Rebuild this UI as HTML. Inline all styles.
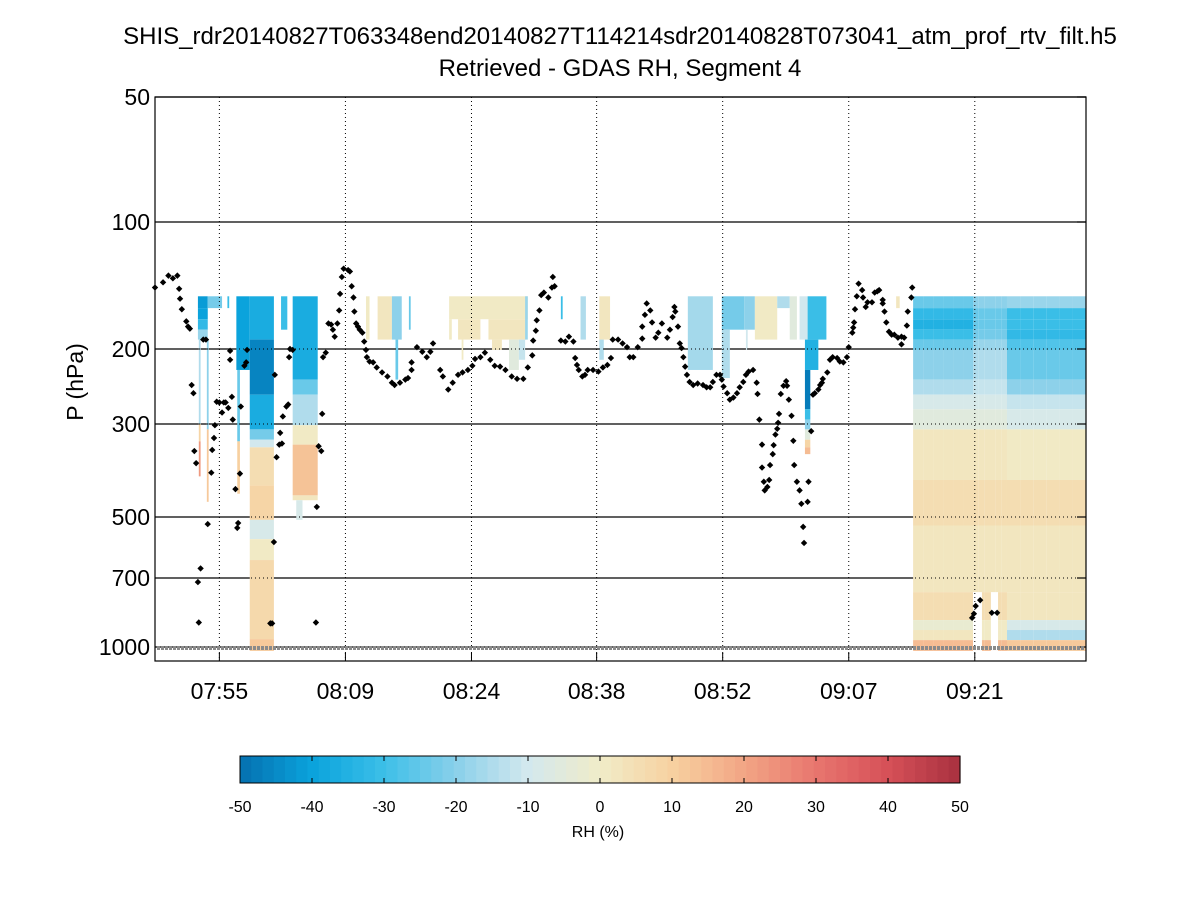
<!DOCTYPE html>
<html><head><meta charset="utf-8"><style>
body{margin:0;background:#fff;}
svg{display:block;font-family:"Liberation Sans",sans-serif;}
</style></head><body>
<svg id="chart" width="1200" height="900" viewBox="0 0 1200 900">
<text x="620" y="44" text-anchor="middle" font-size="24">SHIS_rdr20140827T063348end20140827T114214sdr20140828T073041_atm_prof_rtv_filt.h5</text>
<text x="620" y="76" text-anchor="middle" font-size="24">Retrieved - GDAS RH, Segment 4</text>
<text transform="translate(83,382) rotate(-90)" text-anchor="middle" font-size="23">P (hPa)</text>
<g id="plot"></g>
<g id="cbar"></g>
<text x="598" y="837" text-anchor="middle" font-size="16">RH (%)</text>
</svg>
<script>
// ---- data ----
const yTickValues = [50, 100, 200, 300, 500, 700, 1000];
const xTickMinutes = [55.3, 69.4, 83.5, 97.5, 111.6, 125.7, 139.8];
const xTickLabels = ["07:55", "08:09", "08:24", "08:38", "08:52", "09:07", "09:21"];
const cbarTicks = [-50, -40, -30, -20, -10, 0, 10, 20, 30, 40, 50];
// RH difference blocks: [t0(min after 07:00), t1, pTop(hPa), pBottom(hPa), value(%)]
const rhBlocks = [
[52.9,54.0,150,160,-42],[52.9,54.0,160,170,-40],[52.9,54.0,170,180,-32],[52.9,54.0,180,190,-18],
[53.0,53.2,190,300,-15],[53.0,53.2,300,330,8],[53.0,53.2,330,400,22],
[53.9,54.1,190,309,-20],[53.9,54.1,309,460,12],
[54.0,55.6,150,160,-22],[56.2,56.4,150,160,-30],
[57.2,58.7,150,201,-40],[57.2,58.7,201,224,-42],[57.3,57.6,224,330,-25],[57.3,57.6,330,440,10],
[58.7,61.4,150,190,-37],[58.7,61.4,190,256,-46],[58.7,61.4,256,309,-37],[58.7,61.4,309,327,-22],
[58.7,61.4,327,341,-10],[58.7,61.4,341,420,5],[58.7,61.4,420,508,9],[58.7,61.4,508,565,-8],
[58.7,61.4,565,634,0],[58.7,61.4,634,960,7],[58.7,61.4,960,1027,11],
[62.2,62.9,150,180,-30],
[63.5,66.3,150,236,-37],[63.5,66.3,236,256,-25],[63.5,66.3,256,302,-15],[63.5,66.3,302,336,0],
[63.5,66.3,336,444,13],[63.5,66.3,444,456,2],[63.9,64.6,456,508,-8],
[71.7,72.1,150,190,0],
[73.0,74.6,150,190,2],[74.6,75.7,150,190,-20],[75.0,75.3,190,236,-25],[76.5,76.7,150,180,-25],
[81.0,89.8,150,170,1],[81.0,81.3,170,190,0],[82.0,84.5,170,190,2],[85.4,89.6,170,190,2],
[82.4,82.6,190,212,0],[85.8,86.9,190,201,3],[87.7,88.8,190,224,-5],[88.8,89.5,190,212,-12],[89.5,89.8,150,190,-18],
[93.5,93.7,150,170,-30],
[95.7,96.3,150,190,-15],
[97.8,99.0,150,190,2],[97.8,98.3,190,212,-15],
[107.7,110.5,150,224,-17],
[111.5,114.0,150,180,-22],[111.5,112.4,180,234,-15],
[114.0,115.2,150,180,-20],[115.2,117.7,150,190,1],[114.2,114.4,180,201,-10],
[117.7,119.1,150,160,-15],[119.1,119.9,150,190,-5],[120.2,121.1,150,190,-10],
[121.1,123.2,150,190,-30],[120.8,122.3,190,224,-35],[120.8,121.4,224,277,-48],[120.8,121.4,277,293,-30],
[120.8,121.4,293,309,-20],[120.8,121.4,309,327,-5],[120.8,121.4,327,341,8],[120.8,121.4,341,354,15],
[131.0,131.4,150,160,3]
];
// right-hand continuous block: layer edges and profiles per column group
const rightLevels = [150,160,170,180,190,201,236,256,277,309,408,524,753,870,916,965,1027];
const rightGroupT = [[132.9,139.6],[139.6,143.4],[143.4,152.2]];
const rightG1 = [-25,-32,-35,-30,-25,-20,-15,-8,-5,3,5,3,6,-3,3,15];
const rightG2 = [-20,-25,-25,-22,-18,-15,-12,-8,-5,2,5,3,5,0,0,15];
const rightG3 = [-18,-30,-30,-32,-28,-25,-20,-12,-8,0,5,3,3,-8,-15,12];
const rightHoles = [[139.6,140.6,753,1027],[141.6,142.4,753,1027]];
// cloud-top points: time (min after 07:00), pressure (hPa)
const cloudT = [48.1,49.0,49.6,50.1,50.6,50.8,50.9,51.1,51.6,51.8,52.0,52.2,52.4,52.5,52.7,52.9,53.0,53.2,53.5,53.8,54.0,54.4,54.5,54.7,54.8,55.0,55.3,55.6,55.8,56.0,56.3,56.5,56.5,56.7,56.8,57.1,57.3,57.4,57.6,57.7,58.1,58.3,58.4,61.0,61.2,61.4,61.5,61.7,62.0,62.1,62.3,62.4,62.8,63.0,63.1,63.2,63.5,66.1,66.2,66.4,66.7,66.8,66.9,67.2,67.5,67.8,68.0,68.2,68.5,68.7,68.8,69.0,69.2,69.7,69.9,70.1,70.3,70.4,70.6,70.8,71.0,71.3,71.5,71.7,71.8,72.1,72.5,72.9,73.5,74.1,74.6,74.9,75.5,76.1,76.4,76.8,76.8,77.4,78.0,78.5,78.9,79.2,80.0,80.3,80.9,81.4,82.0,82.5,83.1,83.6,83.9,84.5,85.0,85.6,86.1,86.7,87.3,88.0,88.6,89.3,89.8,90.3,90.4,90.7,90.8,91.1,91.3,91.6,92.1,92.5,92.6,92.8,93.5,94.0,94.4,94.9,95.1,95.3,95.5,95.9,96.2,96.5,97.1,97.7,98.2,98.7,99.1,99.3,99.9,100.4,100.9,101.2,101.6,102.1,102.6,102.6,102.9,103.1,103.5,103.7,104.1,104.4,104.8,105.4,105.7,106.0,106.2,106.3,106.6,106.8,107.0,107.2,107.4,107.6,107.9,108.3,108.8,109.4,109.8,110.2,110.5,110.9,111.3,111.5,111.7,112.1,112.4,112.8,113.2,113.5,113.9,114.2,114.5,115.0,115.4,115.5,115.7,116.0,116.0,116.2,116.3,116.6,116.8,116.9,117.2,117.3,117.5,117.7,117.8,117.9,118.1,118.4,118.7,118.8,119.0,119.3,119.5,119.6,119.9,120.2,120.4,120.6,120.7,121.1,121.2,121.5,121.7,121.9,122.3,122.5,122.7,122.8,123.3,123.6,123.9,124.4,124.7,125.1,125.5,125.7,126.1,126.2,126.3,126.4,126.6,126.8,127.2,127.3,127.6,127.8,128.3,128.6,128.9,129.1,129.5,129.5,129.7,129.9,130.2,130.5,130.8,131.2,131.6,131.6,131.9,132.2,132.3,132.7,132.8,139.5,139.7,139.9,140.4,141.7,142.3];
const cloudP = [143,139,134,136,134,144,152,161,172,177,179,243,254,348,372,715,881,664,190,190,520,392,346,324,302,266,267,282,267,267,275,202,212,259,293,429,531,517,394,273,219,215,201,885,885,574,230,360,336,315,334,288,273,270,209,200,201,881,473,339,348,284,209,204,174,175,180,187,174,162,148,135,129,130,131,142,151,163,174,177,180,183,192,201,209,214,215,221,227,232,240,243,240,236,234,215,224,198,203,209,203,194,224,232,249,240,230,227,224,219,211,209,204,212,219,220,224,232,235,235,221,207,191,181,171,162,149,147,151,143,135,142,191,192,187,192,210,218,224,232,230,224,224,226,221,218,210,190,190,194,198,209,209,198,189,177,166,156,162,173,188,183,174,188,180,168,159,163,177,194,199,209,220,230,239,243,241,243,246,246,239,230,230,236,245,254,263,260,254,246,239,230,226,224,240,255,293,336,381,412,432,424,408,376,354,337,318,308,298,284,255,244,238,244,263,287,329,376,412,432,465,528,577,460,412,312,256,254,249,243,240,235,227,212,209,210,214,215,209,198,183,178,173,161,150,140,145,151,159,155,155,147,146,145,153,156,163,173,182,185,185,188,187,195,188,176,163,151,143,860,842,809,785,838,838];

// ---- scales ----
const X0 = 155, X1 = 1086, Y0 = 97, Y1 = 661;
const tMin = 48.1, pxPerMin = 8.94;
function xs(t){ return X0 + (t - tMin) * pxPerMin; }
const yRefP = [50,100,200,300,500,700,1000,1100];
const yRefPx = [97,222,349,424,517,578,647,661];
function ys(p){
  for (let i = 0; i < yRefP.length - 1; i++){
    if (p <= yRefP[i+1] || i === yRefP.length - 2){
      const f = (Math.log(p) - Math.log(yRefP[i])) / (Math.log(yRefP[i+1]) - Math.log(yRefP[i]));
      return yRefPx[i] + f * (yRefPx[i+1] - yRefPx[i]);
    }
  }
}
const stops = [[-50,[5,112,176]],[-40,[10,163,220]],[-30,[60,191,232]],[-20,[138,208,234]],[-10,[211,232,238]],[0,[240,236,200]],[10,[247,209,160]],[20,[242,165,133]],[30,[232,118,110]],[40,[214,80,88]],[50,[168,48,63]]];
function cmap(v){
  v = Math.max(-50, Math.min(50, v));
  const bin = Math.min(63, Math.floor((v + 50) / 100 * 64));
  v = -50 + (bin + 0.5) * 100 / 64;
  for (let i = 0; i < stops.length - 1; i++){
    if (v <= stops[i+1][0]){
      const f = (v - stops[i][0]) / 10;
      const c = stops[i][1].map((a, k) => Math.round(a + f * (stops[i+1][1][k] - a)));
      return `rgb(${c[0]},${c[1]},${c[2]})`;
    }
  }
}
const NS = "http://www.w3.org/2000/svg";
function mk(tag, attrs, parent){ const e = document.createElementNS(NS, tag); for (const k in attrs) e.setAttribute(k, attrs[k]); parent.appendChild(e); return e; }
const plot = document.getElementById('plot');

yTickValues.forEach(p => {
  const l = mk('line', {x1:X0, x2:X1, y1:ys(p), y2:ys(p), stroke:'#000', 'stroke-width':1.2}, plot);
  
  
});
function block(t0, t1, pa, pb, v){
  const x = xs(t0), w = xs(t1) - x, y = ys(pa), h = ys(pb) - y;
  const r = mk('rect', {x:x, y:y, width:Math.max(w, 1.5), height:h, fill:cmap(v)}, plot);
  
  
}
rhBlocks.forEach(b => block(b[0], b[1], b[2], b[3], b[4]));
[rightG1, rightG2, rightG3].forEach((g, gi) => {
  const tr = rightGroupT[gi];
  g.forEach((v, li) => {
    const steps = 6;
    for (let s = 0; s < steps; s++){
      const t0 = tr[0] + (tr[1] - tr[0]) * s / steps, t1 = tr[0] + (tr[1] - tr[0]) * (s + 1) / steps;
      block(t0, t1, rightLevels[li], rightLevels[li+1], v);
    }
  });
});
rightHoles.forEach(h => {
  const r = mk('rect', {x:xs(h[0]), y:ys(h[2]), width:xs(h[1]) - xs(h[0]), height:ys(h[3]) - ys(h[2]), fill:'#fff'}, plot);
  
  
});
yTickValues.forEach(p => {
  const l = mk('line', {x1:X0, x2:X1, y1:ys(p), y2:ys(p), stroke:'#000', 'stroke-width':1, 'stroke-dasharray':'1 3'}, plot);
  
  
});
xTickMinutes.forEach((t, i) => {
  const l = mk('line', {x1:xs(t), x2:xs(t), y1:Y0, y2:Y1, stroke:'#000', 'stroke-width':1, 'stroke-dasharray':'1 3'}, plot);
  
  
  const tk = mk('line', {x1:xs(t), x2:xs(t), y1:Y1, y2:Y1 - 9, stroke:'#000', 'stroke-width':1}, plot);
  
  
  const tx = mk('text', {x:xs(t), y:Y1 + 38, 'text-anchor':'middle', 'font-size':23}, plot);
  tx.textContent = xTickLabels[i];
  
  
});
yTickValues.forEach(p => {
  const tx = mk('text', {x:X0 - 5, y:ys(p) + 8, 'text-anchor':'end', 'font-size':23}, plot);
  tx.textContent = p;
  
  
  const tk = mk('line', {x1:X1 - 9, x2:X1, y1:ys(p), y2:ys(p), stroke:'#000', 'stroke-width':1.2}, plot);
  
  
});
const surf = mk('line', {x1:X0 + 2, x2:X1 - 2, y1:ys(1000) + 1, y2:ys(1000) + 1, stroke:'#8a8a8a', 'stroke-width':4, 'stroke-dasharray':'3 1'}, plot);


cloudT.forEach((t, i) => {
  const x = xs(t), y = ys(cloudP[i]);
  const d = mk('path', {d:`M${x-3.2},${y}L${x},${y-3.2}L${x+3.2},${y}L${x},${y+3.2}Z`, fill:'#000'}, plot);
  
  
});
const frame = mk('rect', {x:X0, y:Y0, width:X1 - X0, height:Y1 - Y0, fill:'none', stroke:'#000', 'stroke-width':1.2}, plot);



const cb = document.getElementById('cbar');
const CB0 = 240, CB1 = 960, CBY = 756, CBH = 27;
for (let i = 0; i < 64; i++){
  const v = -50 + (i + 0.5) * 100 / 64;
  const r = mk('rect', {x:CB0 + i * (CB1 - CB0) / 64, y:CBY, width:(CB1 - CB0) / 64 + 0.6, height:CBH, fill:cmap(v)}, cb);
  
  
}
const cbf = mk('rect', {x:CB0, y:CBY, width:CB1 - CB0, height:CBH, fill:'none', stroke:'#000', 'stroke-width':1}, cb);


cbarTicks.forEach(v => {
  const x = CB0 + (v + 50) / 100 * (CB1 - CB0);
  mk('line', {x1:x, x2:x, y1:CBY, y2:CBY + 5, stroke:'#000'}, cb);
  mk('line', {x1:x, x2:x, y1:CBY + CBH - 5, y2:CBY + CBH, stroke:'#000'}, cb);
  const tx = mk('text', {x:x, y:812, 'text-anchor':'middle', 'font-size':16}, cb);
  tx.textContent = v;
  
  
});
</script>
</body></html>
